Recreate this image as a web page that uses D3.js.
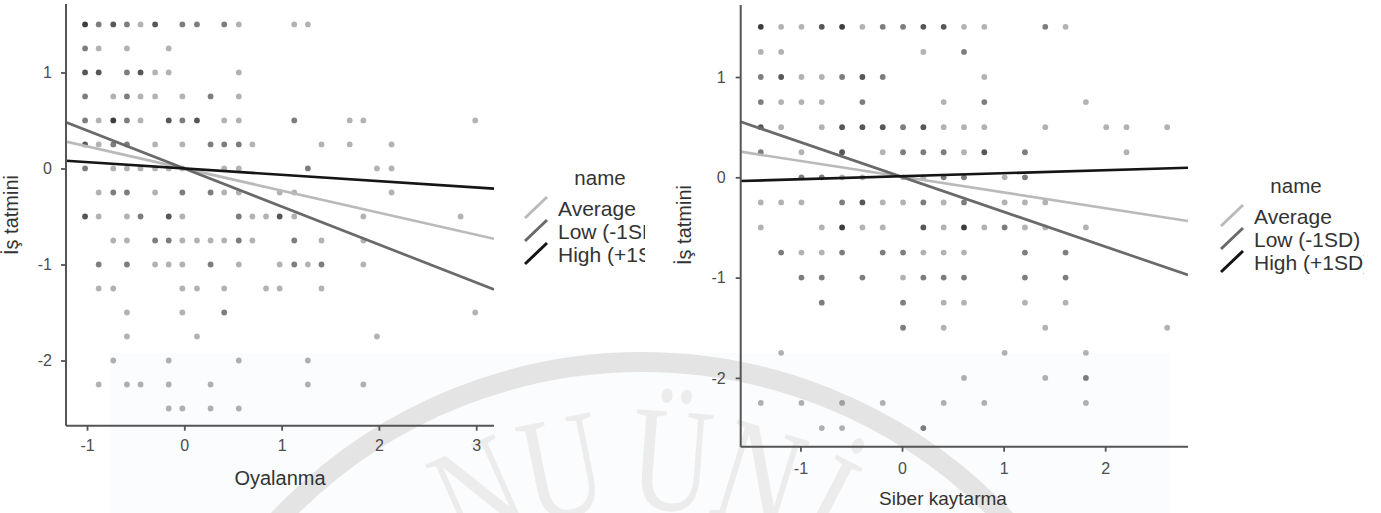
<!DOCTYPE html>
<html>
<head>
<meta charset="utf-8">
<script src="https://cdn.jsdelivr.net/npm/d3@7"></script>
<style>
  body { margin: 0; background: #fff; }
  svg { display: block; font-family: "Liberation Sans", Arial, sans-serif; }
</style>
</head>
<body>
<svg id="chart" width="1381" height="513"></svg>
<script>
// rows: [y, [[x, count], ...]]  (count = overlapping points, shown darker)
const oyalanmaRows = [
  [1.5,  [[-1.02,4],[-0.88,2],[-0.73,3],[-0.59,2],[-0.45,1],[-0.30,3],[-0.02,2],[0.13,2],[0.41,2],[0.56,1],[1.13,1],[1.27,1]]],
  [1.25, [[-1.02,2],[-0.88,1],[-0.59,1],[-0.16,1]]],
  [1,    [[-1.02,3],[-0.88,3],[-0.59,2],[-0.45,3],[-0.30,1],[-0.16,1],[0.56,1]]],
  [0.75, [[-1.02,2],[-0.73,1],[-0.59,2],[-0.45,1],[-0.30,1],[-0.02,1],[0.27,2],[0.56,1]]],
  [0.5,  [[-1.02,2],[-0.88,1],[-0.73,4],[-0.59,2],[-0.45,1],[-0.16,3],[-0.02,2],[0.13,3],[0.41,1],[0.56,1],[1.13,2],[1.70,1],[1.84,1],[2.99,1]]],
  [0.25, [[-1.02,3],[-0.88,1],[-0.73,2],[-0.59,2],[-0.30,1],[-0.02,1],[0.27,2],[0.41,2],[0.56,2],[0.70,1],[1.41,1],[1.70,1],[2.13,1]]],
  [0,    [[-1.02,2],[-0.73,1],[-0.59,1],[-0.45,1],[-0.30,1],[-0.16,1],[-0.02,1],[0.41,1],[0.56,1],[1.27,2],[1.98,1],[2.13,1]]],
  [-0.25,[[-0.88,1],[-0.73,2],[-0.59,2],[-0.30,1],[-0.02,2],[0.27,2],[0.41,1],[0.56,1],[0.98,1],[1.13,1],[2.13,1]]],
  [-0.5, [[-1.02,3],[-0.88,1],[-0.59,1],[-0.45,2],[-0.16,3],[-0.02,1],[0.56,2],[0.70,1],[0.84,1],[0.98,3],[1.13,1],[1.84,1],[2.84,1]]],
  [-0.75,[[-0.73,1],[-0.59,1],[-0.30,2],[-0.16,2],[-0.02,1],[0.13,1],[0.27,1],[0.41,1],[0.56,2],[0.70,1],[1.13,2],[1.41,1],[1.84,1]]],
  [-1,   [[-0.88,2],[-0.59,2],[-0.30,1],[-0.16,1],[-0.02,1],[0.27,2],[0.56,1],[0.98,1],[1.13,2],[1.27,1],[1.41,2],[1.84,1]]],
  [-1.25,[[-0.88,1],[-0.73,1],[-0.02,1],[0.13,1],[0.41,1],[0.84,1],[0.98,1],[1.41,1]]],
  [-1.5, [[-0.59,1],[-0.02,1],[0.41,2],[2.99,1]]],
  [-1.75,[[-0.59,1],[0.13,1],[1.98,1]]],
  [-2,   [[-0.73,1],[-0.16,1],[0.56,1],[1.27,1]]],
  [-2.25,[[-0.88,1],[-0.59,1],[-0.45,1],[-0.16,1],[0.27,1],[1.27,1],[1.84,1]]],
  [-2.5, [[-0.16,1],[-0.02,1],[0.27,1],[0.56,1]]]
];

const siberRows = [
  [1.5,  [[-1.39,4],[-1.19,1],[-0.99,1],[-0.79,3],[-0.59,4],[-0.39,1],[-0.19,2],[0.01,2],[0.21,3],[0.41,3],[0.61,1],[0.81,1],[1.41,2],[1.61,1]]],
  [1.25, [[-1.39,1],[-1.19,1],[0.21,1],[0.61,2]]],
  [1,    [[-1.39,2],[-1.19,3],[-0.99,1],[-0.79,1],[-0.59,2],[-0.39,3],[-0.19,2],[0.81,1]]],
  [0.75, [[-1.39,2],[-1.19,1],[-0.99,1],[-0.79,1],[-0.39,2],[0.41,1],[0.81,2],[1.81,1]]],
  [0.5,  [[-1.39,3],[-1.19,1],[-0.79,1],[-0.59,3],[-0.39,3],[-0.19,3],[0.01,2],[0.21,3],[0.41,1],[0.61,1],[0.81,1],[1.41,1],[2.01,1],[2.21,1],[2.61,1]]],
  [0.25, [[-1.39,2],[-0.99,1],[-0.59,3],[-0.19,1],[0.01,2],[0.21,2],[0.41,2],[0.61,1],[0.81,3],[1.21,2],[2.21,1]]],
  [0,    [[-0.99,2],[-0.79,2],[-0.59,1],[-0.39,1],[0.01,1],[0.21,1],[0.41,2],[0.61,2],[1.01,1],[1.21,2]]],
  [-0.25,[[-1.39,1],[-1.19,1],[-0.99,1],[-0.59,2],[-0.39,3],[-0.19,1],[0.01,1],[0.21,2],[0.41,1],[0.61,2],[1.01,1],[1.21,1],[1.41,1]]],
  [-0.5, [[-1.39,1],[-0.79,1],[-0.59,4],[-0.39,1],[-0.19,1],[0.21,3],[0.41,1],[0.61,4],[0.81,1],[1.01,2],[1.21,1],[1.41,1],[1.81,1]]],
  [-0.75,[[-1.19,2],[-0.99,1],[-0.79,1],[-0.59,2],[-0.19,2],[0.01,2],[0.21,1],[0.41,1],[0.61,1],[1.21,2],[1.61,2]]],
  [-1,   [[-0.99,2],[-0.79,2],[-0.39,2],[0.01,1],[0.21,2],[0.41,2],[0.61,2],[1.21,2],[1.61,2]]],
  [-1.25,[[-0.79,2],[0.01,2],[0.41,1],[0.61,1],[1.21,1],[1.61,1]]],
  [-1.5, [[0.01,2],[0.41,1],[1.41,1],[2.61,1]]],
  [-1.75,[[-1.19,1],[1.01,1],[1.81,1]]],
  [-2,   [[0.61,1],[1.41,1],[1.81,2]]],
  [-2.25,[[-1.39,1],[-0.99,1],[-0.59,1],[-0.19,1],[0.41,1],[0.81,1],[1.81,1]]],
  [-2.5, [[-0.79,1],[-0.59,1],[0.21,2]]]
];

const fitNames = ["Average", "Low (-1SD)", "High (+1SD)"];
const fitColors = ["#bababa", "#6a6a6a", "#151515"];
const oyalanmaSlopes = [-0.23, -0.396, -0.066];
const oyalanmaIntercepts = [0.0, 0.0, 0.0];
const siberSlopes = [-0.157, -0.347, 0.030];
const siberIntercepts = [0.006, 0.003, 0.011];

const yTicks = [-2, -1, 0, 1];
const oyalanmaTicks = [-1, 0, 1, 2, 3];
const siberTicks = [-1, 0, 1, 2];

const svg = d3.select("#chart");

// faint watermark behind the charts
const wm = svg.append("g");
wm.append("rect").attr("x", 110).attr("y", 353).attr("width", 1060).attr("height", 160)
  .attr("fill", "#fafcfd");
wm.append("circle").attr("cx", 642).attr("cy", 860).attr("r", 498)
  .attr("fill", "none").attr("stroke", "#e4e4e4").attr("stroke-width", 20);
const wmLetters = [["N", -24], ["U", -11.5], ["Ü", 4.3], ["N", 17], ["İ", 27.5]];
wm.selectAll("text.wm").data(wmLetters).enter().append("text")
  .attr("class", "wm")
  .attr("transform", d => `rotate(${d[1]},642,860) translate(642,${860 - 351}) scale(0.75,1)`)
  .attr("text-anchor", "middle")
  .style("font-family", "'Liberation Serif', serif")
  .attr("font-size", 150)
  .attr("fill", "#ececec")
  .text(d => d[0]);

function flatten(rows) {
  const out = [];
  rows.forEach(r => r[1].forEach(p => out.push({x: p[0], y: r[0], n: p[1]})));
  return out;
}

function drawPanel(o) {
  const clipId = "clip" + o.id;
  svg.append("clipPath").attr("id", clipId)
    .append("rect").attr("x", 0).attr("y", 0).attr("width", o.clipRight).attr("height", 513);
  const g = svg.append("g").attr("clip-path", `url(#${clipId})`);

  const x = d3.scaleLinear().domain(o.xDomain).range([o.left, o.right]);
  const y = d3.scaleLinear().domain(o.yDomain).range([o.bottom, o.top]);

  const plotClip = "pclip" + o.id;
  svg.append("clipPath").attr("id", plotClip)
    .append("rect").attr("x", o.left).attr("y", o.top)
    .attr("width", o.right - o.left).attr("height", o.bottom - o.top);

  // points
  g.append("g").selectAll("circle").data(flatten(o.rows)).enter().append("circle")
    .attr("cx", d => x(d.x)).attr("cy", d => y(d.y)).attr("r", 2.9)
    .attr("fill", "#000")
    .attr("fill-opacity", d => 1 - Math.pow(0.7, d.n));

  // fitted lines
  const line = d3.line().x(d => x(d[0])).y(d => y(d[1]));
  const lg = g.append("g").attr("clip-path", `url(#${plotClip})`);
  fitNames.forEach((nm, i) => {
    const pts = o.xDomain.map(v => [v, o.intercepts[i] + o.slopes[i] * v]);
    lg.append("path").attr("d", line(pts)).attr("fill", "none")
      .attr("stroke", fitColors[i]).attr("stroke-width", 2.7);
  });

  // axes
  const axCol = "#555";
  const xAxis = g.append("g").attr("transform", `translate(0,${o.bottom})`)
    .call(d3.axisBottom(x).tickValues(o.xTicks).tickSize(5).tickPadding(o.xPad).tickFormat(d3.format("d")));
  const yAxis = g.append("g").attr("transform", `translate(${o.left},0)`)
    .call(d3.axisLeft(y).tickValues(yTicks).tickSize(5).tickPadding(o.yPad).tickFormat(d3.format("d")));
  [xAxis, yAxis].forEach(a => {
    a.select(".domain").remove();
    a.selectAll(".tick line").attr("stroke", axCol).attr("stroke-width", 1.8);
    a.selectAll(".tick text").attr("fill", "#4d4d4d").attr("font-size", 16)
      .style("font-family", "'Liberation Sans', Arial, sans-serif")
      .text(d => d < 0 ? "-" + Math.abs(d) : d);
  });
  g.append("line").attr("x1", o.left).attr("x2", o.right).attr("y1", o.bottom).attr("y2", o.bottom)
    .attr("stroke", axCol).attr("stroke-width", 2);
  g.append("line").attr("x1", o.left).attr("x2", o.left).attr("y1", o.top).attr("y2", o.bottom)
    .attr("stroke", axCol).attr("stroke-width", 2);

  // titles
  g.append("text").attr("x", o.xTitleX).attr("y", o.xTitleY).attr("text-anchor", "middle")
    .attr("font-size", o.titleSize).attr("fill", "#333").text(o.xTitle);
  g.append("text").attr("transform", `translate(${o.yTitleX},${o.yTitleY}) rotate(-90)`)
    .attr("text-anchor", "middle").attr("font-size", 20).attr("fill", "#333").text("İş tatmini");

  // legend
  const leg = g.append("g").attr("transform", `translate(${o.legX},${o.legY})`);
  leg.append("text").attr("x", 75).attr("y", 0).attr("text-anchor", "middle")
    .attr("font-size", 20.5).attr("fill", "#333").text("name");
  fitNames.forEach((nm, i) => {
    const ry = 31 + i * 23;
    leg.append("line").attr("x1", 0).attr("x2", 22).attr("y1", ry + 2).attr("y2", ry - 19)
      .attr("stroke", fitColors[i]).attr("stroke-width", 3);
    leg.append("text").attr("x", 33).attr("y", ry).attr("font-size", 21)
      .attr("fill", "#333").text(nm);
  });
}

drawPanel({
  id: "L", rows: oyalanmaRows, slopes: oyalanmaSlopes, intercepts: oyalanmaIntercepts,
  xDomain: [-1.216, 3.183], yDomain: [-2.679, 1.713], xTicks: oyalanmaTicks,
  left: 66, right: 494, top: 4, bottom: 425.7, clipRight: 645,
  xPad: 9, yPad: 9, xTitle: "Oyalanma", titleSize: 20, xTitleX: 280, xTitleY: 485,
  yTitleX: 18, yTitleY: 215, legX: 525, legY: 185
});

drawPanel({
  id: "R", rows: siberRows, slopes: siberSlopes, intercepts: siberIntercepts,
  xDomain: [-1.588, 2.815], yDomain: [-2.686, 1.718], xTicks: siberTicks,
  left: 740.7, right: 1188, top: 5, bottom: 446.7, clipRight: 1364,
  xPad: 11, yPad: 10, xTitle: "Siber kaytarma", titleSize: 19, xTitleX: 943, xTitleY: 505,
  yTitleX: 691, yTitleY: 225, legX: 1221, legY: 193
});
</script>
</body>
</html>
